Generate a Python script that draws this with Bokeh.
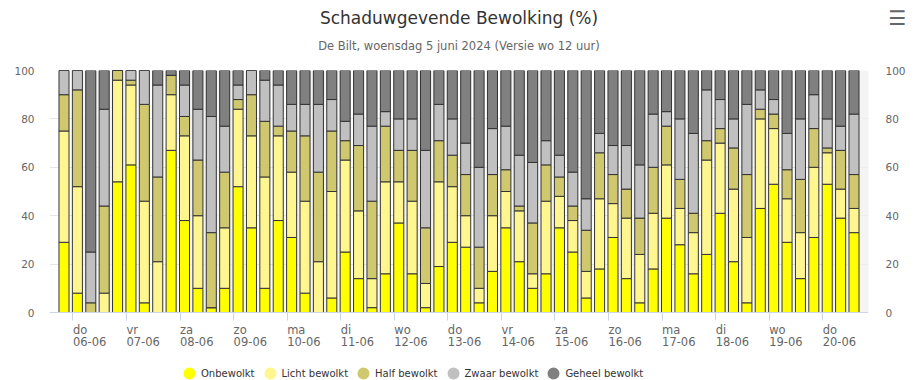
import numpy as np
import pandas as pd
from bokeh.plotting import figure
from bokeh.models import (Range1d, LinearAxis, FixedTicker, Legend, LegendItem, Title,
                          ColumnDataSource, CustomJSTickFormatter)
from bokeh.embed import file_html
from bokeh.resources import INLINE

# ---------------- data ----------------
series = ["Onbewolkt", "Licht bewolkt", "Half bewolkt", "Zwaar bewolkt", "Geheel bewolkt"]

onbewolkt = [29, 8, 0, 0, 54, 61, 4, 0, 67, 38, 10, 2, 10, 52, 35,
             10, 38, 31, 8, 0, 6, 25, 14, 2, 16, 37, 16, 2, 19, 29,
             27, 4, 17, 35, 21, 10, 16, 35, 25, 6, 18, 31, 14, 4, 18,
             39, 28, 16, 24, 41, 21, 4, 43, 53, 29, 14, 31, 53, 39, 33]
licht = [46, 44, 0, 8, 42, 33, 42, 21, 23, 35, 30, 0, 25, 32, 38,
         46, 35, 27, 38, 21, 44, 38, 28, 12, 38, 17, 30, 10, 35, 23,
         13, 6, 23, 15, 21, 6, 30, 13, 13, 11, 29, 14, 25, 20, 23,
         22, 15, 17, 39, 29, 30, 27, 37, 23, 18, 19, 29, 13, 12, 10]
half = [15, 40, 4, 36, 4, 2, 40, 35, 8, 8, 23, 31, 23, 4, 17,
        23, 4, 17, 27, 37, 25, 8, 27, 32, 23, 13, 21, 23, 17, 13,
        17, 17, 17, 9, 2, 21, 15, 8, 6, 17, 19, 12, 12, 15, 19,
        16, 12, 8, 8, 6, 17, 26, 4, 6, 12, 22, 16, 2, 16, 14]
zwaar = [10, 8, 21, 40, 0, 4, 14, 38, 0, 13, 21, 48, 19, 6, 10,
         17, 17, 11, 13, 28, 13, 8, 13, 31, 6, 13, 13, 32, 15, 15,
         13, 33, 19, 18, 21, 25, 10, 9, 14, 13, 8, 12, 18, 22, 22,
         6, 25, 33, 21, 12, 12, 29, 8, 6, 15, 25, 14, 12, 10, 25]
geheel = [0, 0, 75, 16, 0, 0, 0, 6, 2, 6, 16, 19, 23, 6, 0,
          4, 6, 14, 14, 14, 12, 21, 18, 23, 17, 20, 20, 33, 14, 20,
          30, 40, 24, 23, 35, 38, 29, 35, 42, 53, 26, 31, 31, 39, 18,
          17, 20, 26, 8, 12, 20, 14, 8, 12, 26, 20, 10, 20, 23, 18]

first_time = "2024-06-05 20:00"   # first 6-hourly column
day_names = ["do", "vr", "za", "zo", "ma", "di", "wo", "do", "vr", "za", "zo", "ma", "di", "wo", "do"]
day_dates = ["06-06", "07-06", "08-06", "09-06", "10-06", "11-06", "12-06", "13-06",
             "14-06", "15-06", "16-06", "17-06", "18-06", "19-06", "20-06"]
y_ticks = [0, 20, 40, 60, 80, 100]

title_text = "Schaduwgevende Bewolking (%)"
subtitle_text = "De Bilt, woensdag 5 juni 2024 (Versie wo 12 uur)"

# ---------------- style ----------------
FONT = "DejaVu Sans"
colors = ["#ffff00", "#fff68f", "#cfc86e", "#c0c0c0", "#808080"]
W, H = 920, 380
FL, FR, FT, FB = 49, 868, 70, 312          # bar area edges (px)
LAB_PX = 11.5                                # x label font size
# DejaVu Sans advance widths (em) for the glyphs used in the x labels
ADV = {"d": .635, "o": .612, "v": .592, "r": .411, "z": .525, "a": .613, "m": .974,
       "i": .278, "w": .818, "-": .361}

def text_w(s):
    return sum(ADV.get(ch, .636) for ch in s) * LAB_PX

# x in hours relative to 2024-06-06 00:00
day0 = pd.Timestamp("2024-06-06 00:00")
times = pd.date_range(first_time, periods=len(onbewolkt), freq="6h")
x = ((times - day0) / pd.Timedelta(hours=1)).to_numpy()
days = pd.date_range(day0, periods=len(day_names), freq="D")
day_x = ((days - day0) / pd.Timedelta(hours=1)).to_numpy()

pad = 6.5
x_start, x_end = float(x[0] - pad), float(x[-1] + pad)
px_per_h = (FR - FL) / (x_end - x_start)
# the frame reaches down to the canvas bottom (room for axis labels and legend)
y_bottom = -(H - FB) * 100.0 / (FB - FT)

src = ColumnDataSource({"x": x, "none": np.full(len(x), np.nan), series[0]: onbewolkt,
                        series[1]: licht, series[2]: half, series[3]: zwaar,
                        series[4]: geheel})

p = figure(width=W, height=H, output_backend="svg", toolbar_location=None,
           x_range=Range1d(x_start, x_end), y_range=Range1d(y_bottom, 100),
           min_border_left=FL, min_border_right=W - FR, min_border_top=FT,
           min_border_bottom=0,
           outline_line_color=None, background_fill_color="white", border_fill_color="white")
p.title.text = ""

# alternate day bands
band_left = day_x[0::2]
p.quad(left=band_left, right=band_left + 24, bottom=0, top=100,
       fill_color="#f0f0f0", fill_alpha=0.7, line_color=None)

p.vbar_stack(series, x="x", width=4.5, source=src, fill_color=colors,
             line_color="#333333", line_width=1)

# grid
p.xgrid.grid_line_color = None
p.ygrid.ticker = FixedTicker(ticks=y_ticks)
p.ygrid.grid_line_color = "#e6e6e6"

# x axis at y = 0: tick marks at day boundaries (no labels)
xa = p.xaxis[0]
xa.fixed_location = 0
xa.ticker = FixedTicker(ticks=list(day_x), minor_ticks=[])
xa.formatter = CustomJSTickFormatter(code="return ''")
xa.axis_line_color = "#ccd6eb"
xa.major_tick_line_color = "#ccd6eb"
xa.major_tick_out = 8
xa.major_tick_in = 0
xa.minor_tick_line_color = None
xa.major_label_standoff = 0

# two label rows (left aligned at the day boundary)
def label_axis(labels, standoff):
    centers = [float(d + text_w(s) / 2 / px_per_h) for d, s in zip(day_x, labels)]
    ax = LinearAxis(ticker=FixedTicker(ticks=centers, minor_ticks=[]),
                    formatter=CustomJSTickFormatter(args=dict(labs=labels),
                                                    code="return labs[index]"),
                    fixed_location=0)
    ax.axis_line_color = None
    ax.major_tick_line_color = None
    ax.minor_tick_line_color = None
    ax.major_tick_out = 0
    ax.major_tick_in = 0
    ax.major_label_standoff = standoff
    ax.major_label_text_font = FONT
    ax.major_label_text_font_size = f"{LAB_PX}px"
    ax.major_label_text_color = "#666666"
    return ax

p.add_layout(label_axis(day_names, 10), "below")
p.add_layout(label_axis(day_dates, 24), "below")

# y axes
def style_y(ax, standoff):
    ax.ticker = FixedTicker(ticks=y_ticks, minor_ticks=[])
    ax.axis_line_color = None
    ax.major_tick_line_color = None
    ax.minor_tick_line_color = None
    ax.major_tick_out = 0
    ax.major_label_standoff = standoff
    ax.major_label_text_font = FONT
    ax.major_label_text_font_size = "10.5px"
    ax.major_label_text_color = "#666666"

style_y(p.yaxis[0], 15)
ra = LinearAxis()
style_y(ra, 17)
p.add_layout(ra, "right")

# legend (circles: small marker + thick outline of the same colour); the
# renderers have no y values (NaN) so they draw nothing in the plot itself
items = []
for name, c in zip(series, colors):
    r = p.scatter(x="x", y="none", source=src, marker="circle", size=6,
                  fill_color=c, line_color=c, line_width=6.4)
    items.append(LegendItem(label=name, renderers=[r]))
legend = Legend(items=items, orientation="horizontal", location=(133, 0),
                glyph_width=14, glyph_height=14, label_height=14, label_standoff=5,
                spacing=8, padding=0, margin=0, border_line_color=None,
                background_fill_alpha=0, label_text_font=FONT,
                label_text_font_size="10px", label_text_color="#333333")
p.add_layout(legend, "center")

# titles (closest to the frame first); panel text is centred in its panel
p.add_layout(Title(text=subtitle_text, align="center", text_font=FONT,
                   text_font_size="11.5px", text_font_style="normal",
                   text_color="#666666", standoff=35), "above")
p.add_layout(Title(text=title_text, align="center", text_font=FONT,
                   text_font_size="17px", text_font_style="normal",
                   text_color="#333333", standoff=-16), "above")
p.add_layout(Title(text="\u2630", align="right", offset=-38, text_font=FONT,
                   text_font_size="20px", text_font_style="bold",
                   text_color="#666666", standoff=-33), "above")

open("out.html", "w").write(file_html(p, INLINE))
